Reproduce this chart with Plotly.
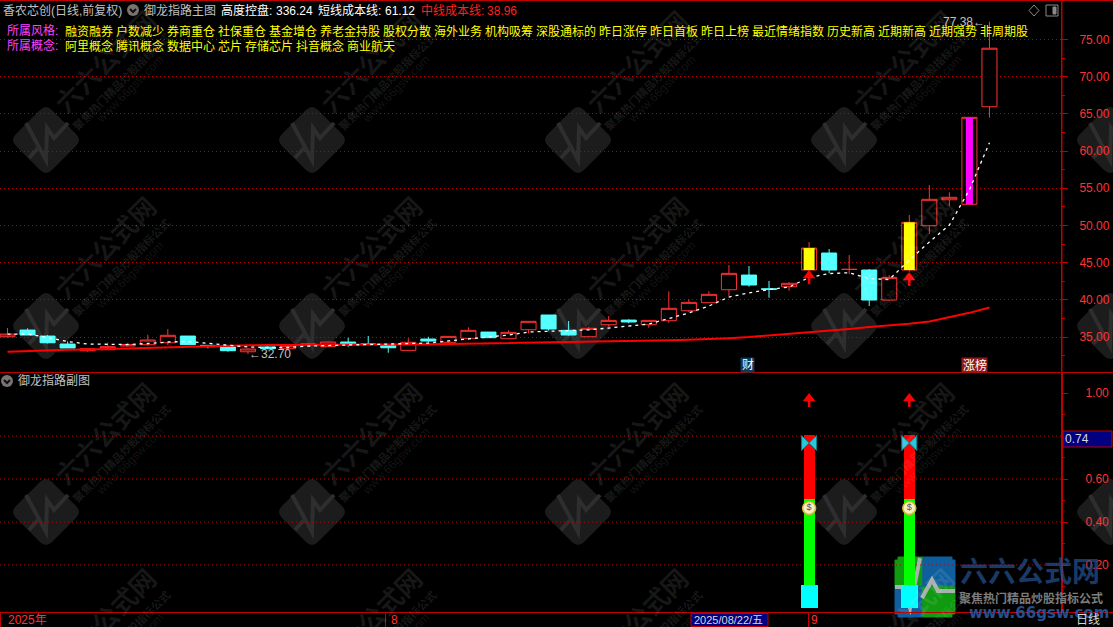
import plotly.graph_objects as go

W, H = 1113, 627
FONT = "Liberation Sans, Noto Sans CJK SC"
CJK = "Noto Sans CJK SC, Liberation Sans"

# ---------- data ----------
opens = [35.04, 35.94, 35.13, 34.06, 33.16, 33.29, 33.79, 33.97, 34.23, 35.13,
         33.88, 33.66, 33.02, 33.66, 33.43, 33.92, 33.70, 34.33, 34.06, 33.83,
         33.21, 34.73, 34.29, 34.83, 35.67, 34.77, 35.98, 37.96, 35.90, 35.04,
         36.65, 37.28, 36.65, 37.19, 38.53, 39.61, 41.36, 43.33, 41.49, 41.76,
         44.01, 46.29, 44.08, 44.01, 39.97, 44.01, 49.96, 53.45, 52.84, 65.95]
highs = [36.21, 36.17, 35.27, 34.42, 33.50, 34.23, 34.23, 35.31, 36.08, 35.13,
         33.88, 33.92, 33.50, 33.75, 33.90, 34.23, 34.40, 34.91, 35.13, 33.90,
         34.83, 35.04, 35.10, 36.30, 35.67, 35.90, 37.11, 37.96, 37.15, 36.34,
         37.82, 37.38, 37.30, 41.14, 40.07, 41.14, 44.68, 44.54, 42.53, 42.39,
         47.77, 46.83, 46.02, 44.14, 43.33, 51.40, 55.43, 54.45, 64.53, 77.38]
lows = [34.91, 35.27, 34.13, 33.52, 33.02, 33.29, 33.75, 33.79, 33.92, 33.92,
        33.48, 33.02, 32.70, 33.35, 33.43, 33.90, 33.70, 33.70, 34.00, 32.89,
        33.21, 34.29, 34.06, 34.73, 34.91, 34.77, 35.50, 35.85, 35.20, 35.04,
        36.38, 36.84, 36.25, 36.92, 38.36, 39.55, 40.51, 41.76, 40.28, 41.22,
        43.74, 43.56, 43.47, 39.17, 39.84, 43.78, 48.84, 52.61, 52.84, 64.48]
closes = [35.40, 35.27, 34.23, 33.52, 33.43, 33.70, 33.99, 34.60, 35.23, 33.97,
          33.70, 33.16, 33.39, 33.43, 33.83, 34.06, 34.33, 34.06, 34.03, 33.56,
          34.29, 34.46, 35.09, 35.90, 34.91, 35.63, 37.11, 36.08, 35.27, 36.17,
          37.24, 37.02, 37.24, 38.86, 39.66, 40.74, 43.56, 41.99, 41.41, 42.22,
          46.96, 44.01, 44.10, 39.97, 43.02, 50.42, 53.51, 53.78, 64.53, 73.82]
short_cost = [35.40, 35.40, 34.93, 34.40, 34.06, 33.99, 33.99, 34.13, 34.33, 34.40,
              34.13, 33.86, 33.66, 33.59, 33.59, 33.79, 33.86, 33.86, 33.92, 33.99,
              34.06, 34.19, 34.48, 34.76, 35.04, 35.27, 35.67, 35.77, 35.81, 35.97,
              36.21, 36.51, 36.75, 37.49, 38.23, 39.17, 40.38, 40.94, 41.38, 41.72,
              43.00, 43.53, 43.64, 42.86, 42.73, 45.35, 47.77, 50.05, 54.80, 61.12]
mid_cost = [33.02, 33.12, 33.25, 33.29, 33.32, 33.39, 33.45, 33.55, 33.61, 33.75,
            33.80, 33.85, 33.90, 33.92, 33.95, 33.97, 33.99, 34.00, 34.00, 34.00,
            33.99, 34.03, 34.07, 34.11, 34.15, 34.19, 34.22, 34.26, 34.30, 34.33,
            34.37, 34.43, 34.50, 34.58, 34.65, 34.73, 34.85, 35.00, 35.20, 35.45,
            35.68, 35.90, 36.08, 36.34, 36.55, 36.78, 37.10, 37.65, 38.25, 38.96]
days = list(range(len(closes)))

yellow_days = [40, 45]
magenta_days = [48]
signal_days = [40, 45]
signal_arrow_tip = [43.74, 43.47]
signal_arrow_base = [42.10, 41.85]

sub_cyan_top = [0.107, 0.107]
sub_green_top = [0.507, 0.507]
sub_red_top = [0.805, 0.805]
sub_butterfly = [0.767, 0.767]
sub_bag = [0.465, 0.465]
sub_arrow_tip = [0.99, 0.99]
sub_arrow_base = [0.935, 0.935]

price_ticks = [35, 40, 45, 50, 55, 60, 65, 70, 75]
sub_ticks = [0.2, 0.4, 0.6, 0.8, 1.0]
sub_grid = [0.2, 0.4, 0.6, 0.8]

style_tags = ["融资融券", "户数减少", "券商重仓", "社保重仓", "基金增仓", "养老金持股", "股权分散",
              "海外业务", "机构吸筹", "深股通标的", "昨日涨停", "昨日首板", "昨日上榜",
              "最近情绪指数", "历史新高", "近期新高", "近期强势", "非周期股"]
concept_tags = ["阿里概念", "腾讯概念", "数据中心", "芯片", "存储芯片", "抖音概念", "商业航天"]

UP = "#ff3232"
DOWN = "#54ffff"
AXIS = "#c00000"
GRID = "#c00000"


def px(x):
    return x / W


def py(y):
    return 1 - y / H


def poly(points, close=False):
    s = "M" + " L".join(f"{px(x):.5f},{py(y):.5f}" for x, y in points)
    return s + (" Z" if close else "")


shapes, notes = [], []


def note(x, y, text, color="#c8c8c8", size=12, family=FONT, anchor="left", **kw):
    notes.append(dict(xref="paper", yref="paper", x=px(x), y=py(y), text=text, showarrow=False,
                      xanchor=anchor, yanchor="middle", borderpad=0,
                      font=dict(color=color, size=size, family=family), **kw))


def hline(y, x0=0, x1=W, color=AXIS, width=1):
    shapes.append(dict(type="line", xref="paper", yref="paper", x0=px(x0), x1=px(x1), y0=py(y), y1=py(y),
                       line=dict(color=color, width=width), layer="above"))


def vline(x, y0, y1, color=AXIS, width=1):
    shapes.append(dict(type="line", xref="paper", yref="paper", x0=px(x), x1=px(x), y0=py(y0), y1=py(y1),
                       line=dict(color=color, width=width), layer="above"))


def rect(x0, y0, x1, y1, fill, line=None, layer="above"):
    shapes.append(dict(type="rect", xref="paper", yref="paper", x0=px(x0), x1=px(x1), y0=py(y0), y1=py(y1),
                       fillcolor=fill, line=dict(color=line or fill, width=1), layer=layer))


def path(d, fill="rgba(0,0,0,0)", line="rgba(0,0,0,0)", width=1, layer="below"):
    shapes.append(dict(type="path", xref="paper", yref="paper", path=d, fillcolor=fill,
                       line=dict(color=line, width=width), layer=layer))


# ---------- watermark grid ----------
wm_cols = [46, 312, 578, 844, 1110]
wm_rows = [140, 326, 512, 698]
for cy in wm_rows:
    for cx in wm_cols:
        r, c = 36, 6
        t = (cx, cy - r); ri = (cx + r, cy); b = (cx, cy + r); l = (cx - r, cy)
        P = lambda p: f"{px(p[0]):.5f},{py(p[1]):.5f}"
        d = (f"M{P((cx - c, cy - r + c))} Q{P(t)} {P((cx + c, cy - r + c))} "
             f"L{P((cx + r - c, cy - c))} Q{P(ri)} {P((cx + r - c, cy + c))} "
             f"L{P((cx + c, cy + r - c))} Q{P(b)} {P((cx - c, cy + r - c))} "
             f"L{P((cx - r + c, cy + c))} Q{P(l)} {P((cx - r + c, cy - c))} Z")
        path(d, fill="#1c1c1c")
        path(poly([(cx - 20, cy - 17), (cx, cy + 20), (cx + 1, cy - 12), (cx + 8, cy - 2), (cx + 22, cy - 17)]),
             line="#2e2e2e", width=4)
        path(poly([(cx - 17, cy + 18), (cx - 8, cy + 8)]), line="#2e2e2e", width=4)
        if cx < 1100:
            note(cx + 58, cy - 80, "<b>六六公式网</b>", color="rgba(255,255,255,0.09)", size=26, family=CJK,
                 anchor="center", textangle=-45)
            note(cx + 75, cy - 59, "<b>聚焦热门精品炒股指标公式</b>", color="rgba(255,255,255,0.10)", size=11, family=CJK,
                 anchor="center", textangle=-45)
            note(cx + 84, cy - 51, "www.66gsw.com", color="rgba(255,255,255,0.09)", size=12, family=FONT,
                 anchor="center", textangle=-45)

# ---------- corner logo ----------
lx0, lx1, ly0, ly1, lmx, lmy = 895, 955, 557, 617, 923, 587
rect(lx0 + 3, ly0, lmx, lmy, "#0f9a10", layer="below")
rect(lx0, ly0 + 3, lmx, lmy, "#0f9a10", layer="below")
rect(lmx, ly0, lx1 - 3, lmy, "#0f5f9f", layer="below")
rect(lmx, ly0 + 3, lx1, lmy, "#0f5f9f", layer="below")
rect(lx0 + 3, lmy, lmx, ly1, "#0f5f9f", layer="below")
rect(lx0, lmy, lmx, ly1 - 3, "#0f5f9f", layer="below")
rect(lmx, lmy, lx1 - 3, ly1, "#0f9a10", layer="below")
rect(lmx, lmy, lx1, ly1 - 3, "#0f9a10", layer="below")
path(poly([(895, 587), (902, 587), (910, 608), (920, 558)]), line="#a8b0b0", width=4)
path(poly([(922, 598), (932, 580), (938, 591), (955, 591)]), line="#a8b0b0", width=4)
note(959, 570, "<b>六六公式网</b>", color="rgba(36,80,143,0.72)", size=28, family=CJK)
note(958, 597, "<b>聚焦热门精品炒股指标公式</b>", color="#7c7c7c", size=12, family=CJK)
note(968, 613, "<b>www.66gsw.com</b>", color="#24508f", size=15, family="DejaVu Sans")

# ---------- frame ----------
hline(0.5, color=AXIS, width=1)
hline(372.5, width=1)
hline(612.5, width=1)
vline(1062, 0, 372, width=1)
vline(1062, 372, 612, width=2)
vline(0.5, 612, 627)
vline(385.5, 612, 627)
vline(808.5, 612, 627)
for v in sub_grid:
    shapes.append(dict(type="line", xref="paper", yref="y2", x0=0, x1=1061 / W, y0=v, y1=v,
                       line=dict(color=GRID, width=1, dash="1px,3px"), layer="below"))

# ---------- header ----------
note(2, 10.5, "香农芯创(日线,前复权)", color="#c0c0c0")
for cx, cy in [(133, 10), (7, 381)]:
    shapes.append(dict(type="circle", xref="paper", yref="paper", x0=px(cx - 6), x1=px(cx + 6),
                       y0=py(cy - 6), y1=py(cy + 6), fillcolor="#7a7370", line=dict(width=0), layer="above"))
    path(poly([(cx - 3, cy - 1), (cx, cy + 2), (cx + 3, cy - 1)]), line="#101010", width=2, layer="above")
note(143, 10.5, "御龙指路主图", color="#c0c0c0")
note(219.5, 10.5, "高度控盘:", color="#ffffff")
note(275, 10.5, "336.24", color="#ffffff")
note(317, 10.5, "短线成本线:", color="#ffffff")
note(384, 10.5, "61.12", color="#ffffff")
note(419.5, 10.5, "中线成本线:", color="#ff2020")
note(486, 10.5, "38.96", color="#ff2020")
note(6, 30.5, "所属风格:", color="#ff40ff")
note(6, 46, "所属概念:", color="#ff40ff")
for tags, row_y in [(style_tags, 30.5), (concept_tags, 46)]:
    x = 64
    for tag in tags:
        note(x, row_y, tag, color="#ffff00", family=CJK)
        x += 12 * len(tag) + 3
note(17, 381, "御龙指路副图", color="#c0c0c0")
path(poly([(1034, 5), (1039, 10.5), (1034, 16), (1029, 10.5)], close=True), line="#8a8a8a", width=1, layer="above")
rect(1046, 5, 1058, 16, "rgba(0,0,0,0)", line="#8a8a8a")
rect(1053, 7, 1056, 14, "#8a8a8a")

# ---------- badges and bottom strip ----------
rect(741, 358, 754, 372, "#0c3a5c")
note(747.5, 365, "财", color="#ffffff", anchor="center")
rect(962, 358, 987, 372, "#8c1c1c")
note(974.5, 365, "涨榜", color="#ffffff", anchor="center")
rect(1063, 431, 1112, 447, "#000080", line=AXIS)
note(1064, 439, "0.74", color="#d8d8d8")
note(7, 620, "2025年", color=UP)
note(390, 620, "8", color=UP)
rect(691, 613.5, 768, 626.5, "#000080", line=AXIS)
note(693, 620, "2025/08/22/五", color="#d8d8d8", size=11)
note(810, 620, "9", color=UP)
note(1075, 620, "日线", color="#d8d8d8")

# ---------- traces ----------
fig = go.Figure()
fig.add_trace(go.Candlestick(
    x=days, open=opens, high=highs, low=lows, close=closes, whiskerwidth=0, showlegend=False,
    increasing=dict(line=dict(color=UP, width=1), fillcolor="#000000"),
    decreasing=dict(line=dict(color=DOWN, width=1), fillcolor=DOWN),
    xaxis="x", yaxis="y"))


def fill_segments(day_list):
    xs, ys = [], []
    for d in day_list:
        xs += [d, d, None]
        ys += [opens[d], closes[d], None]
    return xs, ys


for day_list, color, width in [(yellow_days, "#ffff00", 11), (magenta_days, "#ff00ff", 7)]:
    xs, ys = fill_segments(day_list)
    fig.add_trace(go.Scatter(x=xs, y=ys, mode="lines", line=dict(color=color, width=width),
                             showlegend=False, xaxis="x", yaxis="y"))
fig.add_trace(go.Scatter(x=days, y=mid_cost, mode="lines", line=dict(color="#ff0000", width=2),
                         showlegend=False, xaxis="x", yaxis="y"))
fig.add_trace(go.Scatter(x=days, y=short_cost, mode="lines",
                         line=dict(color="#ffffff", width=1.3, dash="3px,4px"),
                         showlegend=False, xaxis="x", yaxis="y"))


def arrows(days_, tips, bases, yaxis, head):
    xs, ys = [], []
    for d, t, b in zip(days_, tips, bases):
        xs += [d, d, None]
        ys += [b, t - (t - b) * 0.4, None]
    fig.add_trace(go.Scatter(x=xs, y=ys, mode="lines", line=dict(color="#ff0000", width=2.5),
                             showlegend=False, xaxis="x2" if yaxis == "y2" else "x", yaxis=yaxis))
    fig.add_trace(go.Scatter(x=days_, y=[t - (t - b) * 0.28 for t, b in zip(tips, bases)], mode="markers",
                             marker=dict(symbol="triangle-up", size=head, color="#ff0000", line=dict(width=0)),
                             showlegend=False, xaxis="x2" if yaxis == "y2" else "x", yaxis=yaxis))


arrows(signal_days, signal_arrow_tip, signal_arrow_base, "y", 11)

fig.add_trace(go.Bar(x=signal_days, y=sub_cyan_top, base=[0, 0], width=0.85, marker=dict(color="#00ffff", line=dict(width=0)),
                     showlegend=False, xaxis="x2", yaxis="y2"))
fig.add_trace(go.Bar(x=signal_days, y=[g - c for g, c in zip(sub_green_top, sub_cyan_top)], base=sub_cyan_top, width=0.55,
                     marker=dict(color="#00ff00", line=dict(width=0)), showlegend=False, xaxis="x2", yaxis="y2"))
fig.add_trace(go.Bar(x=signal_days, y=[r - g for r, g in zip(sub_red_top, sub_green_top)], base=sub_green_top, width=0.55,
                     marker=dict(color="#ff0000", line=dict(width=0)), showlegend=False, xaxis="x2", yaxis="y2"))
fig.add_trace(go.Scatter(x=signal_days, y=sub_butterfly, mode="markers",
                         marker=dict(symbol="bowtie", size=15, color="#2cc6d8", line=dict(color="#0a7f90", width=1)),
                         showlegend=False, xaxis="x2", yaxis="y2"))
fig.add_trace(go.Scatter(x=signal_days, y=sub_bag, mode="markers+text", text=["$", "$"], textposition="middle center",
                         textfont=dict(size=9, color="#555555", family=FONT),
                         marker=dict(symbol="circle", size=13, color="#f5eecb", line=dict(color="#d4b62a", width=1.5)),
                         showlegend=False, xaxis="x2", yaxis="y2"))
arrows(signal_days, sub_arrow_tip, sub_arrow_base, "y2", 11)

# value labels next to the extreme candles
notes.append(dict(x=12, y=32.70, xref="x", yref="y", text="←32.70", showarrow=False, xanchor="left", yanchor="middle",
                  xshift=-1, font=dict(color="#c0c0c0", size=12, family=FONT)))
notes.append(dict(x=49, y=77.38, xref="x", yref="y", text="77.38←", showarrow=False, xanchor="right", yanchor="middle",
                  xshift=-2, font=dict(color="#c0c0c0", size=12, family=FONT)))

x_range = [-0.374, 52.57]
common_y = dict(side="right", showline=True, linecolor=AXIS, linewidth=1, ticks="outside", ticklen=6, tickcolor=AXIS,
                tickwidth=1, zeroline=False, tickfont=dict(color=UP, size=12, family=FONT), fixedrange=True)
fig.update_layout(
    width=W, height=H, autosize=False, margin=dict(l=0, r=0, t=0, b=0),
    paper_bgcolor="#000000", plot_bgcolor="#000000", barmode="overlay", bargap=0,
    boxgap=0.1, boxgroupgap=0.167, showlegend=False,
    hovermode=False,
    xaxis=dict(domain=[0, 1061 / W], range=x_range, showgrid=False, zeroline=False, showticklabels=False, ticks="",
               rangeslider=dict(visible=False), anchor="y", fixedrange=True),
    xaxis2=dict(domain=[0, 1061 / W], range=x_range, showgrid=False, zeroline=False, showticklabels=False, ticks="",
                anchor="y2", matches="x", fixedrange=True),
    yaxis=dict(domain=[1 - 372 / H, 1], range=[30.3, 80.3], anchor="x", tickvals=price_ticks, tickformat=".2f",
               showgrid=True, gridcolor=GRID, griddash="1px,3px", gridwidth=1, ticklabelstandoff=9,
               minor=dict(tickvals=[32.5, 37.5, 42.5, 47.5, 52.5, 57.5, 62.5, 67.5, 72.5], ticks="outside", ticklen=3,
                          tickcolor=AXIS, showgrid=False),
               **common_y),
    yaxis2=dict(domain=[(H - 612) / H, (H - 373) / H], range=[-0.0186, 1.093], anchor="x2", tickvals=sub_ticks,
                tickformat=".2f", showgrid=False, ticklabelstandoff=15,
                minor=dict(tickvals=[0.1, 0.3, 0.5, 0.7, 0.9], ticks="outside", ticklen=3, tickcolor=AXIS, showgrid=False),
                **common_y),
    shapes=shapes, annotations=notes,
)

fig.write_html("out.html", config=dict(displayModeBar=False),
               post_script="document.body.style.margin='0';document.body.style.background='#000';document.body.style.overflow='hidden';")
